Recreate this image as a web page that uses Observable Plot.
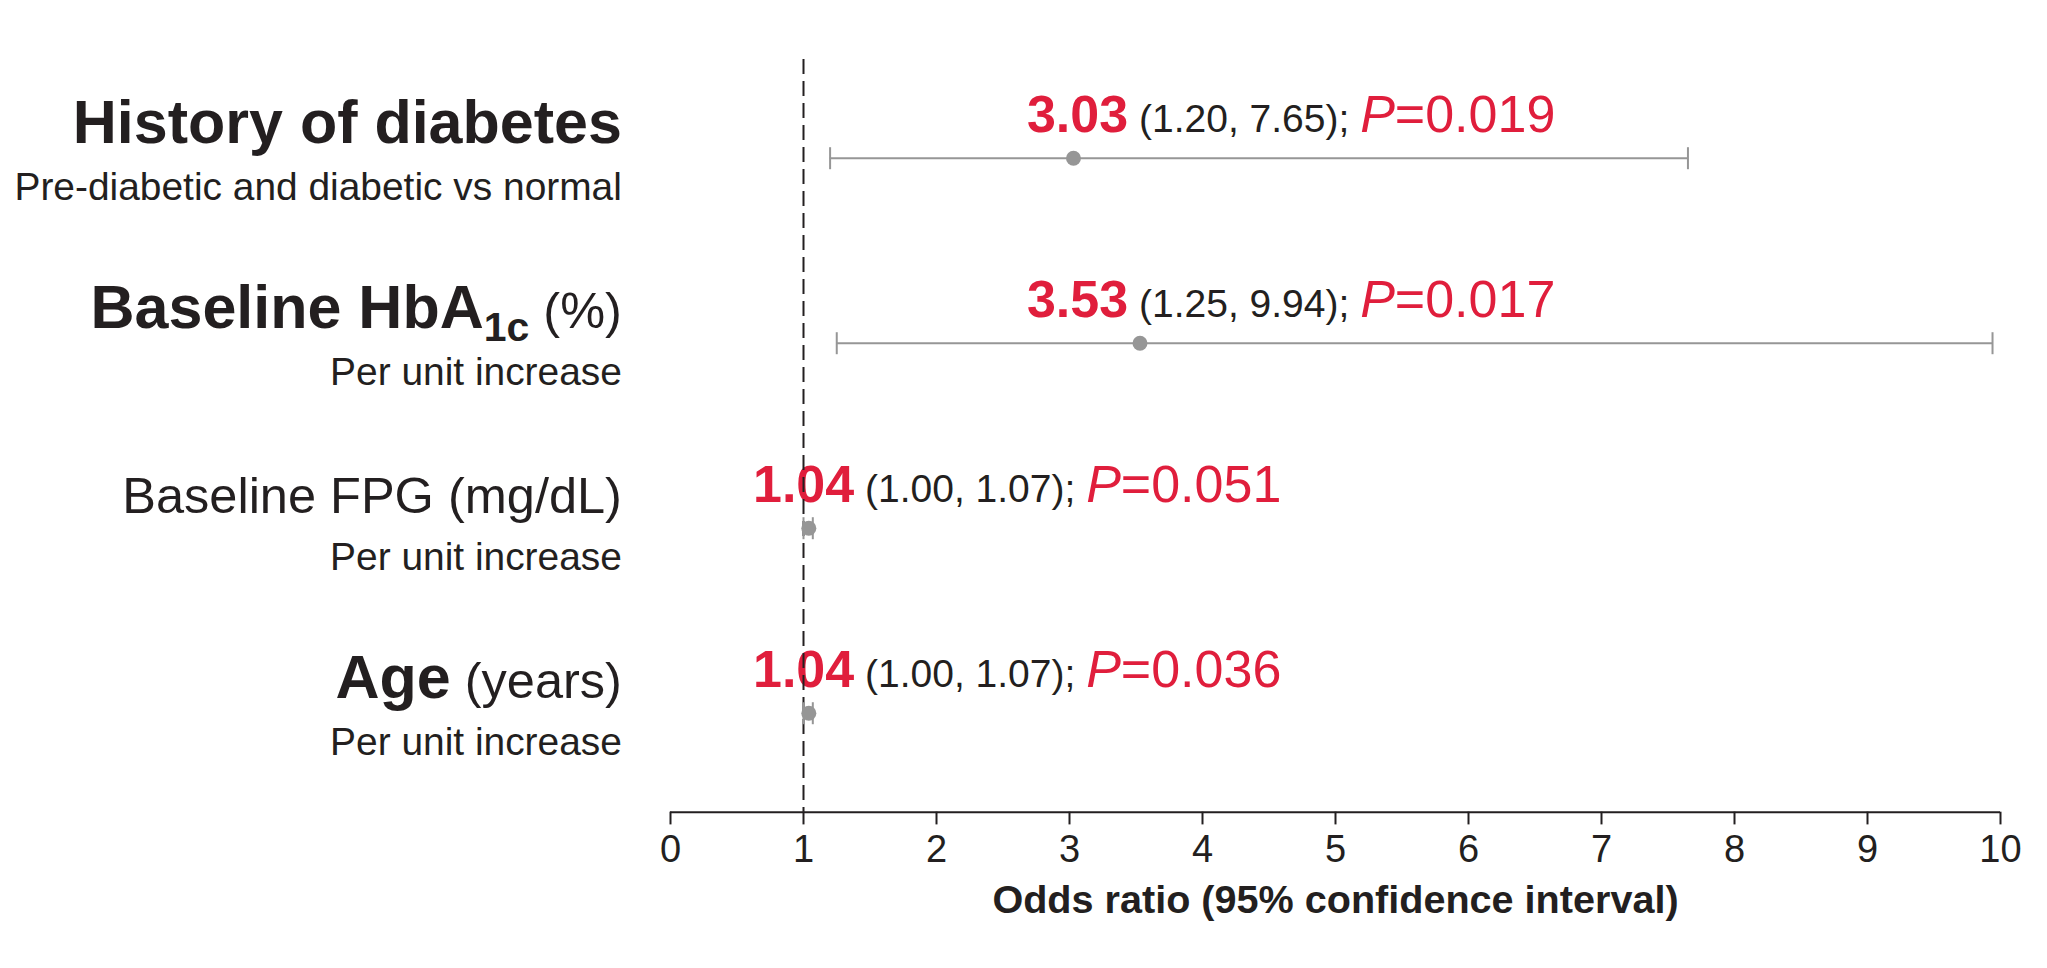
<!DOCTYPE html>
<html>
<head>
<meta charset="utf-8">
<script src="https://cdn.jsdelivr.net/npm/d3@7"></script>
<script src="https://cdn.jsdelivr.net/npm/@observablehq/plot@0.6"></script>
<style>
  html, body { margin: 0; padding: 0; background: #fff; overflow: hidden; }
  #chart svg { display: block; }
</style>
</head>
<body>
<div id="chart"></div>
<script>
// Factors in the logistic model, top to bottom
const titleBold = ["History of diabetes", "Baseline HbA", "", "Age"];
const titleSub = ["", "1c", "", ""];
const titlePlain = ["", " (%)", "Baseline FPG (mg/dL)", " (years)"];
const subtitles = [
  "Pre-diabetic and diabetic vs normal",
  "Per unit increase",
  "Per unit increase",
  "Per unit increase"
];

// Odds ratios with 95% confidence limits and P values
const oddsRatio = [3.03, 3.53, 1.04, 1.04];
const ciLow = [1.20, 1.25, 1.00, 1.00];
const ciHigh = [7.65, 9.94, 1.07, 1.07];
const pValues = ["0.019", "0.017", "0.051", "0.036"];

// x axis
const xTicks = [0, 1, 2, 3, 4, 5, 6, 7, 8, 9, 10];
const axisTitle = "Odds ratio (95% confidence interval)";

const rows = oddsRatio.map((or, i) => ({
  i, or, lo: ciLow[i], hi: ciHigh[i], p: pValues[i],
  bold: titleBold[i], sub: titleSub[i], plain: titlePlain[i], subtitle: subtitles[i]
}));

const RED = "#e01e3c";
const INK = "#231f20";
const GREY = "#969696";
const FONT = "'Liberation Sans', Arial, Helvetica, sans-serif";

// vertical extent in row units: top of the null line, and the x axis baseline
const rowTop = -0.5335;
const rowBottom = 3.535;

// vertical whisker cap drawn as a dot symbol (half-length = r)
const cap = {
  draw(context, size) {
    const h = Math.sqrt(size / Math.PI);
    context.moveTo(0, -h);
    context.lineTo(0, h);
  }
};

// wide intervals share one annotation column; narrow ones sit by the null line
const annotationX = d => (d.hi - d.lo > 1 ? 2.68 : 0.62);

const svg = Plot.plot({
  width: 2047,
  height: 968,
  marginLeft: 670,
  marginRight: 47,
  marginTop: 59,
  marginBottom: 156.3,
  style: {fontFamily: FONT, color: INK, background: "#fff", overflow: "visible"},
  x: {domain: [0, 10]},
  y: {domain: [rowTop, rowBottom], reverse: true, axis: null},
  marks: [
    Plot.ruleY([rowBottom], {stroke: INK, strokeWidth: 2}),
    Plot.axisX(xTicks, {
      anchor: "bottom", tickSize: 12.7, tickPadding: 10.6, fontSize: 38,
      tickFormat: d => String(d), stroke: INK, strokeWidth: 2, label: null
    }),
    Plot.text([axisTitle], {
      text: d => d, frameAnchor: "bottom", lineAnchor: "bottom", dy: 100.8,
      fontSize: 39.6, fontWeight: "bold"
    }),
    Plot.text(rows, {
      y: "i", text: d => d.bold + d.sub + d.plain,
      frameAnchor: "left", dx: -48.6, dy: -15, textAnchor: "end", lineAnchor: "bottom",
      fontSize: 50, ariaDescription: "factor"
    }),
    Plot.text(rows, {
      y: "i", text: "subtitle",
      frameAnchor: "left", dx: -48.6, dy: 42, textAnchor: "end", lineAnchor: "bottom",
      fontSize: 38.9, ariaDescription: "factor detail"
    }),
    Plot.text(rows, {
      x: annotationX, y: "i",
      text: d => `${d.or.toFixed(2)} (${d.lo.toFixed(2)}, ${d.hi.toFixed(2)}); P=${d.p}`,
      dy: -26, textAnchor: "start", lineAnchor: "bottom", fontSize: 39, ariaDescription: "estimate"
    }),
    Plot.ruleX([1], {stroke: INK, strokeWidth: 2, strokeDasharray: "15,7"}),
    Plot.ruleY(rows, {y: "i", x1: "lo", x2: "hi", stroke: GREY, strokeWidth: 2}),
    Plot.dot(rows, {x: "lo", y: "i", symbol: cap, r: 11, stroke: GREY, strokeWidth: 2, fill: "none"}),
    Plot.dot(rows, {x: "hi", y: "i", symbol: cap, r: 11, stroke: GREY, strokeWidth: 2, fill: "none"}),
    Plot.dot(rows, {x: "or", y: "i", r: 7.5, fill: GREY, stroke: "none"})
  ]
});

// text groups in mark order: axis title, factor names, factor details, estimates
const root = d3.select(svg);
const textGroups = root.selectAll('g[aria-label="text"]').nodes();
function groupFor(name, fallbackIndex) {
  const g = root.select(`g[aria-description="${name}"]`);
  return g.empty() ? d3.select(textGroups[fallbackIndex]) : g;
}

// Mixed-weight factor names (bold name, subscript, plain unit)
groupFor("factor", 1).selectAll("text").each(function (_, k) {
  const d = rows[k];
  const t = d3.select(this).text("").style("white-space", "pre");
  if (d.bold) t.append("tspan").attr("font-weight", "bold").attr("font-size", 61).text(d.bold);
  if (d.sub) t.append("tspan").attr("font-weight", "bold").attr("font-size", 41).attr("dy", 13).text(d.sub);
  if (d.plain) t.append("tspan").attr("font-size", 50.5).attr("dy", d.sub ? -13 : null).text(d.plain);
});

// Estimate labels: bold odds ratio, interval, italic P
groupFor("estimate", 3).selectAll("text").each(function (_, k) {
  const d = rows[k];
  const t = d3.select(this).text("").style("white-space", "pre");
  t.append("tspan").attr("fill", RED).attr("font-weight", "bold").attr("font-size", 52).text(d.or.toFixed(2));
  t.append("tspan").attr("font-size", 39).text(` (${d.lo.toFixed(2)}, ${d.hi.toFixed(2)}); `);
  t.append("tspan").attr("fill", RED).attr("font-style", "italic").attr("font-size", 52).text("P");
  t.append("tspan").attr("fill", RED).attr("font-size", 52).text("=" + d.p);
});

document.getElementById("chart").appendChild(svg);
</script>
</body>
</html>
